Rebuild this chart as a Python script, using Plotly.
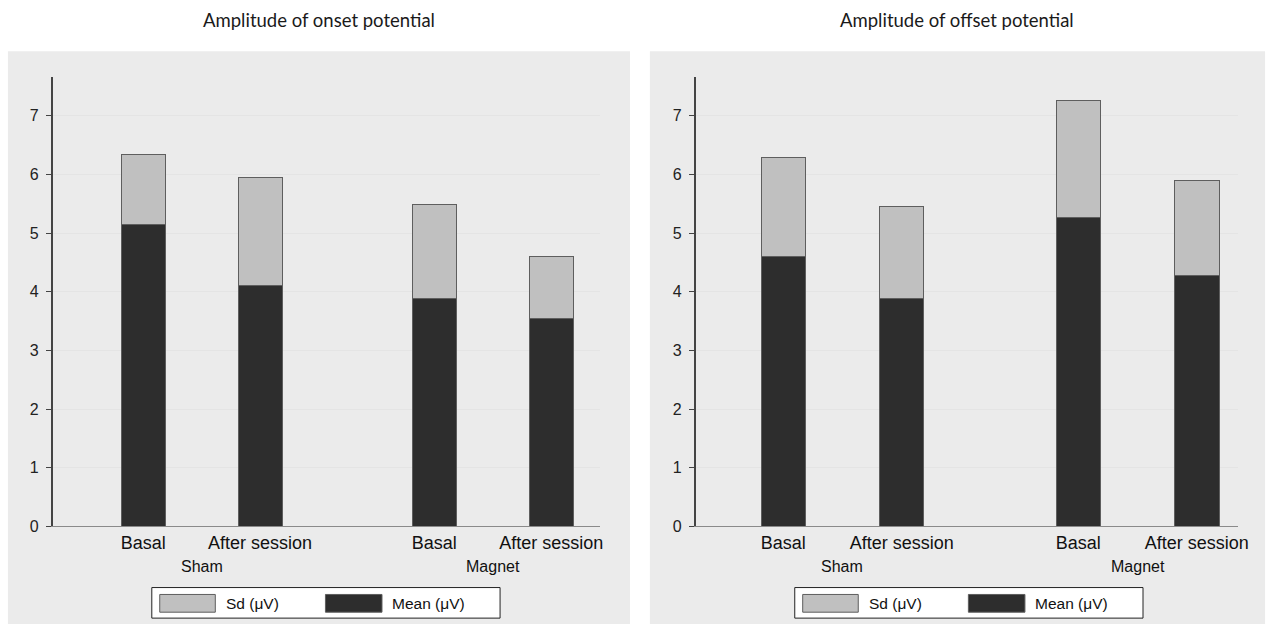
import plotly.graph_objects as go

# ---- data ----
groups = ["Sham", "Sham", "Magnet", "Magnet"]
sessions = ["Basal", "After session", "Basal", "After session"]
onset_mean = [5.14, 4.11, 3.88, 3.55]
onset_sd = [1.19, 1.83, 1.60, 1.05]
offset_mean = [4.60, 3.89, 5.27, 4.28]
offset_sd = [1.68, 1.57, 1.98, 1.62]
titles = ["Amplitude of onset potential", "Amplitude of offset potential"]
series_names = ["Sd (μV)", "Mean (μV)"]
y_ticks = [0, 1, 2, 3, 4, 5, 6, 7]

W, H = 1282, 635
def PX(p):
    return p / W
def PY(p):
    return 1 - p / H

# bar positions: within-group spacing 1, extra gap between groups
group_order = []
for g in groups:
    if g not in group_order:
        group_order.append(g)
positions = []
within = {}
for g, s in zip(groups, sessions):
    gi = group_order.index(g)
    k = within.get(g, 0)
    within[g] = k + 1
    positions.append(gi * 2.49 + k)

MEAN_C = "#2d2d2d"
SD_C = "#c0c0c0"
EDGE = "#5e5e5e"
FONT = "Liberation Sans, Arial, sans-serif"

panels = [
    dict(mean=onset_mean, sd=onset_sd, title=titles[0], ax=53, ar=605, bg=(8, 635), xr=[-0.775, 3.91]),
    dict(mean=offset_mean, sd=offset_sd, title=titles[1], ax=701, ar=1248, bg=(655, 1275), xr=[-0.74, 3.84]),
]
plot_top, plot_bot = 78, 534

fig = go.Figure()
shapes = []
annotations = []
for i, p in enumerate(panels):
    xa = "x" if i == 0 else "x2"
    ya = "y" if i == 0 else "y2"
    fig.add_trace(go.Bar(x=positions, y=p["mean"], name=series_names[1], marker=dict(color=MEAN_C, line=dict(color=EDGE, width=1)),
                         width=0.375, xaxis=xa, yaxis=ya, showlegend=False))
    fig.add_trace(go.Bar(x=positions, y=p["sd"], name=series_names[0], marker=dict(color=SD_C, line=dict(color=EDGE, width=1)),
                         width=0.375, xaxis=xa, yaxis=ya, showlegend=False))
    # panel background
    shapes.append(dict(type="rect", xref="paper", yref="paper", x0=PX(p["bg"][0]), x1=PX(p["bg"][1]), y0=PY(52), y1=PY(633),
                       fillcolor="#ebebeb", line=dict(width=0), layer="below"))
    # title
    annotations.append(dict(text=p["title"], xref="paper", yref="paper", x=PX((p["bg"][0] + p["bg"][1]) / 2), y=PY(20),
                            showarrow=False, font=dict(family="Lato, sans-serif", size=18.5, color="#1a1a1a"),
                            xanchor="center", yanchor="middle"))
    # group labels
    for g in group_order:
        gp = [pos for pos, gg in zip(positions, groups) if gg == g]
        annotations.append(dict(text=g, xref=xa, yref="paper", x=sum(gp) / len(gp), y=PY(575), showarrow=False,
                                font=dict(family=FONT, size=16, color="#111"), xanchor="center", yanchor="middle"))
    # legend box
    ax = p["ax"]
    shapes.append(dict(type="rect", xref="paper", yref="paper", x0=PX(ax + 100), x1=PX(ax + 451), y0=PY(596), y1=PY(627),
                       fillcolor="white", line=dict(color="#222", width=1)))
    shapes.append(dict(type="rect", xref="paper", yref="paper", x0=PX(ax + 108), x1=PX(ax + 164), y0=PY(603), y1=PY(621),
                       fillcolor=SD_C, line=dict(color=EDGE, width=1)))
    shapes.append(dict(type="rect", xref="paper", yref="paper", x0=PX(ax + 275), x1=PX(ax + 332), y0=PY(603), y1=PY(621),
                       fillcolor=MEAN_C, line=dict(color=EDGE, width=1)))
    annotations.append(dict(text=series_names[0], xref="paper", yref="paper", x=PX(ax + 173), y=PY(612), showarrow=False,
                            font=dict(family=FONT, size=15.5, color="#111"), xanchor="left", yanchor="middle"))
    annotations.append(dict(text=series_names[1], xref="paper", yref="paper", x=PX(ax + 340), y=PY(612), showarrow=False,
                            font=dict(family=FONT, size=15.5, color="#111"), xanchor="left", yanchor="middle"))

common_x = dict(tickvals=positions, ticktext=sessions, showgrid=False, zeroline=False, showline=True, linecolor="#8a8a8a",
                linewidth=1, ticks="", tickfont=dict(family=FONT, size=18, color="#111"), fixedrange=True)
common_y = dict(range=[0, 7.66], tickvals=y_ticks, showgrid=True, gridcolor="#e4e4e4", gridwidth=1.2, zeroline=False,
                showline=True, linecolor="#444", linewidth=1.5, ticks="outside", ticklen=5, tickcolor="#444",
                tickfont=dict(family=FONT, size=16, color="#222"), ticklabelstandoff=4, fixedrange=True)

fig.update_layout(
    width=W, height=H, margin=dict(l=0, r=0, t=0, b=0),
    paper_bgcolor="white", plot_bgcolor="white", barmode="stack", showlegend=False, hovermode=False,
    xaxis=dict(domain=[PX(53), PX(605)], range=panels[0]["xr"], anchor="y", **common_x),
    xaxis2=dict(domain=[PX(701), PX(1248)], range=panels[1]["xr"], anchor="y2", **common_x),
    yaxis=dict(domain=[PY(plot_bot), PY(plot_top)], anchor="x", **common_y),
    yaxis2=dict(domain=[PY(plot_bot), PY(plot_top)], anchor="x2", **common_y),
    shapes=shapes, annotations=annotations,
)

fig.write_html("out.html", config={"displayModeBar": False},
               post_script="document.body.style.margin='0';document.body.style.overflow='hidden';")
